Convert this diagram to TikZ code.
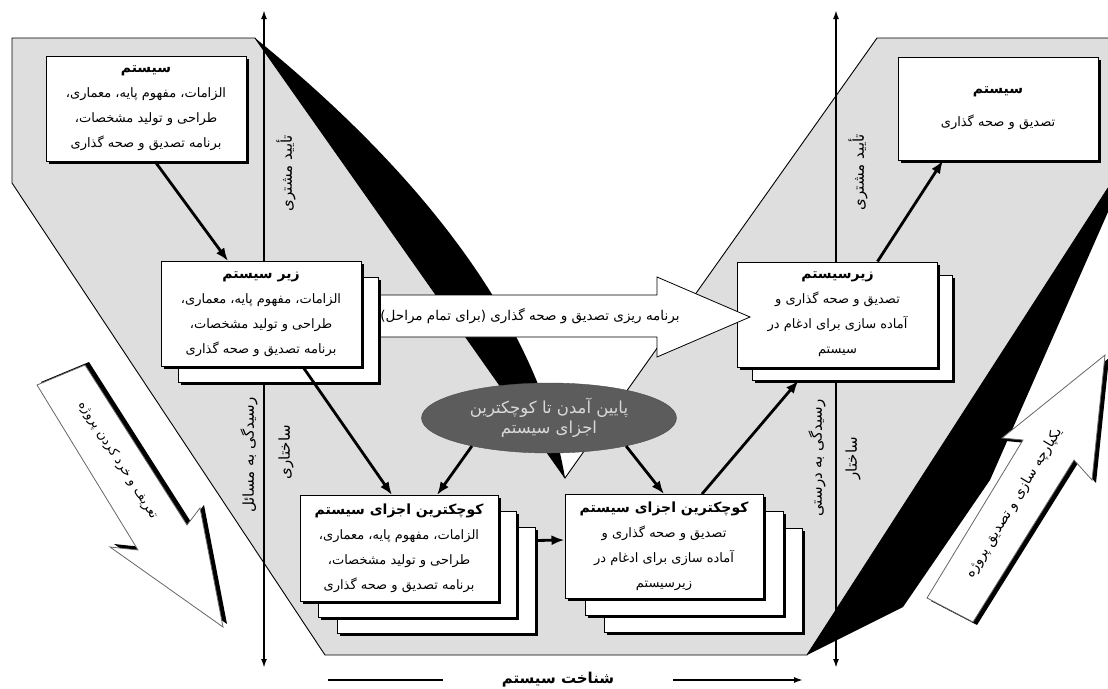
\documentclass[tikz,border=0pt]{standalone}
\usepackage{fontspec}
\newfontfamily\farsi[Script=Arabic]{DejaVu Sans}
\TeXXeTstate=1
\usetikzlibrary{arrows.meta,shapes.geometric,shadows}
\definecolor{vgray}{gray}{0.87}
\definecolor{ovalgray}{gray}{0.36}
\newcommand{\fa}[1]{{\farsi\beginR #1\endR}}
\newcommand{\fab}[1]{{\farsi\bfseries\beginR #1\endR}}
\newcommand{\hd}[1]{{\fontsize{14}{25}\selectfont\fab{#1}}}

\begin{document}
\begin{tikzpicture}[
        x=1pt, y=-1pt,
        font=\fontsize{13}{25}\selectfont
    ]
    \tikzset{
        box/.style = {rectangle, draw=black, line width=1pt, fill=white, align=center,
            minimum width=200pt, minimum height=105pt, inner sep=2pt,
            drop shadow={shadow xshift=2.5pt, shadow yshift=-2.5pt, opacity=1, fill=black}},
        oval/.style = {ellipse, draw=black!70, fill=ovalgray, text=white!85!black, align=center,
            minimum width=255pt, minimum height=70pt, inner sep=0pt,
            font=\fontsize{16.5}{20}\selectfont},
        flow/.style = {-{Latex[length=13pt,width=10pt]}, line width=2.8pt},
        axis/.style = {{Latex[length=9pt,width=6pt]}-{Latex[length=9pt,width=6pt]}, line width=1.8pt},
        lbl/.style = {rotate=90, inner sep=1pt, font=\fontsize{15}{18}\selectfont},
        bigarrow/.style = {draw=black!60, line width=0.8pt, fill=white},
        arrowshade/.style = {fill=black},
    }
    \useasboundingbox (0,0) rectangle (1108,688);
    % the V
    \fill[vgray] (12,38) -- (255,38) -- (565,478) -- (877,38) -- (1108,38) -- (1108,188)
        -- (807,655) -- (325,655) -- (12,183) -- cycle;
    \fill[black] (255,38) .. controls (430,180) and (540,330) .. (565,478) -- cycle;
    \fill[black] (807,655) -- (1108,188) -- (1108,212) -- (990,480) -- (903,607) -- cycle;
    \draw[line width=0.9pt] (1108,188) -- (807,655) -- (325,655) -- (12,183) -- (12,38)
        -- (255,38) -- (565,478) -- (877,38) -- (1108,38);
    %
    \coordinate (axLt) at (264,10);
    \coordinate (axLb) at (264,668);
    \coordinate (axRt) at (836,10);
    \coordinate (axRb) at (836,668);
    \draw[axis] (axLt) -- (axLb);
    \draw[axis] (axRt) -- (axRb);
    \node[lbl] at (286,173) (okL) {\fa{تأیید مشتری}};
    \node[lbl] at (249,455) (fixL) {\fa{رسیدگی به مسائل}};
    \node[lbl] at (286,452) (strL) {\fa{ساختاری}};
    \node[lbl] at (858,172) (okR) {\fa{تأیید مشتری}};
    \node[lbl] at (817,458) (fixR) {\fa{رسیدگی به درستی}};
    \node[lbl] at (853,458) (strR) {\fa{ساختار}};
    %
    \begin{scope}[shift={(4,-3)}]
        \fill[arrowshade] (37,385) -- (138,550) -- (110,547) -- (223,627) -- (200,508) -- (187,525) -- (85,365) -- cycle;
    \end{scope}
    \draw[bigarrow] (37,385) -- (138,550) -- (110,547) -- (223,627) -- (200,508) -- (187,525) -- (85,365) -- cycle;
    \node[rotate=-57.5] at (118,460) (defn) {\fa{تعریف و خرد کردن پروژه}};
    \begin{scope}[shift={(4,3)}]
        \fill[arrowshade] (927,598) -- (1023,440) -- (1002,438) -- (1105,355) -- (1092,480) -- (1074,460) -- (973,622) -- cycle;
    \end{scope}
    \draw[bigarrow] (927,598) -- (1023,440) -- (1002,438) -- (1105,355) -- (1092,480) -- (1074,460) -- (973,622) -- cycle;
    \node[rotate=58.7, font=\fontsize{14}{16}\selectfont] at (1014,503) (integ) {\fa{یکپارچه سازی و تصدیق پروژه}};
    %
    \node[box, minimum width=200pt, minimum height=103pt] at (998,108.5) (sysR) {\hd{سیستم}\\[8pt]\fa{تصدیق و صحه گذاری}};
    \node[box] at (852.5,327.5) (subR2) {};
    \node[box] at (837.5,314.5) (subR) {\hd{زیرسیستم}\\\fa{تصدیق و صحه گذاری و}\\\fa{آماده سازی برای ادغام در}\\\fa{سیستم}};
    %
    \draw[bigarrow, draw=black] (368,295) -- (657,295) -- (657,277) -- (750,317) -- (657,357) -- (657,337) -- (368,337) -- cycle;
    \node[font=\fontsize{13.5}{16}\selectfont] at (530,316) (plan) {\fa{برنامه ریزی تصدیق و صحه گذاری (برای تمام مراحل)}};
    %
    \node[box] at (146,108.5) (sysL) {\hd{سیستم}\\\fa{الزامات، مفهوم پایه، معماری،}\\\fa{طراحی و تولید مشخصات،}\\\fa{برنامه تصدیق و صحه گذاری}};
    \node[box] at (278.5,330) (subL2) {};
    \node[box] at (261,314) (subL) {\hd{زیر سیستم}\\\fa{الزامات، مفهوم پایه، معماری،}\\\fa{طراحی و تولید مشخصات،}\\\fa{برنامه تصدیق و صحه گذاری}};
    %
    \node[box, minimum width=198pt, minimum height=106pt] at (436,580.5) (partL3) {};
    \node[box, minimum width=198pt, minimum height=106pt] at (417,564.5) (partL2) {};
    \node[box, minimum width=198pt, minimum height=106pt] at (399,548.5) (partL) {\hd{کوچکترین اجزای سیستم}\\\fa{الزامات، مفهوم پایه، معماری،}\\\fa{طراحی و تولید مشخصات،}\\\fa{برنامه تصدیق و صحه گذاری}};
    \node[box, minimum width=198pt, minimum height=104pt] at (703,580.5) (partR3) {};
    \node[box, minimum width=198pt, minimum height=104pt] at (684,563.5) (partR2) {};
    \node[box, minimum width=198pt, minimum height=104pt] at (664,546.5) (partR) {\hd{کوچکترین اجزای سیستم}\\\fa{تصدیق و صحه گذاری و}\\\fa{آماده سازی برای ادغام در}\\\fa{زیرسیستم}};
    %
    \node[oval] at (549,418) (task) {\fa{پایین آمدن تا کوچکترین}\\\fa{اجزای سیستم}};
    %
    \draw[flow] ([xshift=9pt]sysL.south) -- ([xshift=-33pt]subL.north);
    \draw[flow] ([xshift=42pt]subL.south) -- ([xshift=-7pt]partL.north);
    \draw[flow] (task.200) -- ([xshift=38pt]partL.north);
    \draw[flow] (task.-20) -- (partR.north);
    \draw[flow] ([yshift=40pt]partL3.east) -- ([yshift=6.5pt]partR.west);
    \draw[flow] ([xshift=38pt]partR.north) -- ([xshift=-54pt]subR2.south);
    \draw[flow] ([xshift=40pt]subR.north) -- ([xshift=-55pt]sysR.south);
    %
    \coordinate (knowL) at (328,680);
    \coordinate (knowR) at (803,680);
    \node[minimum width=230pt, font=\fontsize{15}{17}\selectfont] at (558,680) (know) {\fab{شناخت سیستم}};
    \draw[line width=1.6pt] (knowL) -- (know.west);
    \draw[line width=1.6pt, -{Latex[length=9pt,width=6pt]}] (know.east) -- (knowR);
\end{tikzpicture}
\end{document}
